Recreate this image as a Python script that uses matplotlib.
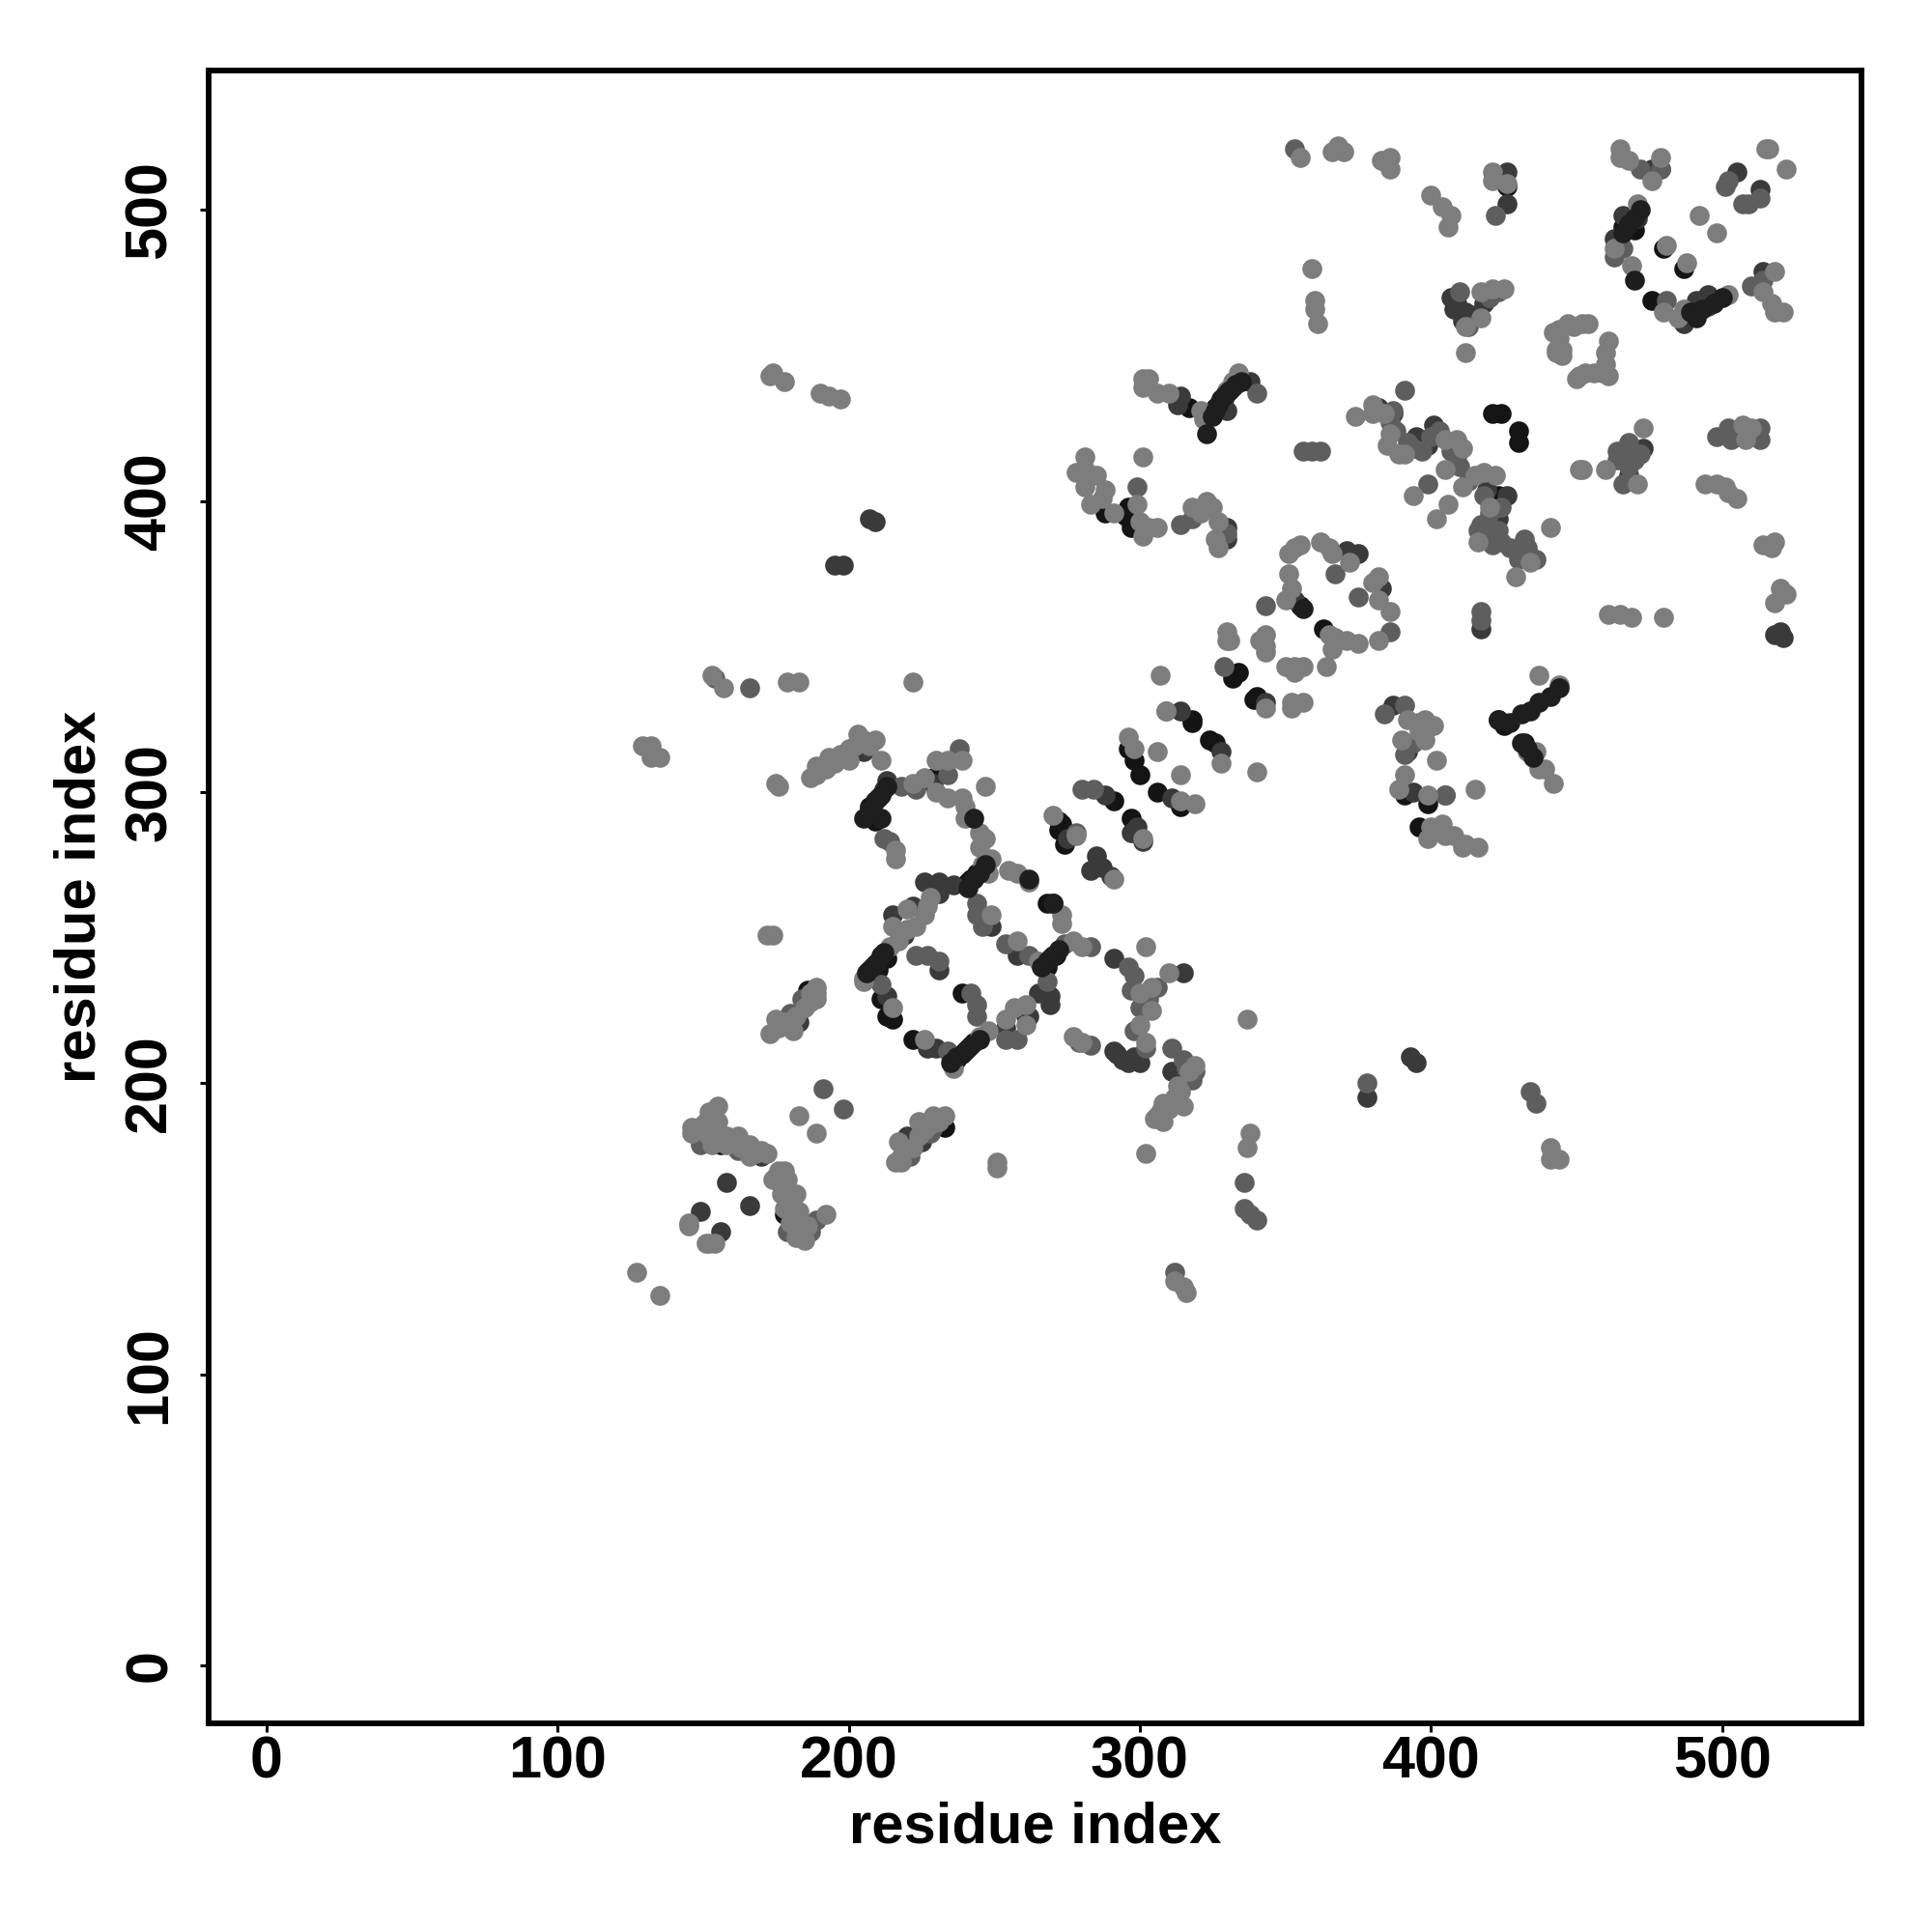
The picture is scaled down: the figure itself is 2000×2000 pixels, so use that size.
import numpy as np
import matplotlib
matplotlib.use('Agg')
import matplotlib.pyplot as plt

plt.rcParams['font.family'] = ['Liberation Sans', 'DejaVu Sans']

# contacts (residue i, residue j), one list per grey level
black_pts = [
    (207,295),(209,297),(210,298),(207,293),(209,290),(211,244),(213,243),(209,241),(207,239),(210,239),
    (211,229),(215,222),(213,223),(239,231),(222,215),(243,214),(241,212),(239,210),(237,208),(242,270),
    (241,269),(240,268),(244,272),(268,262),(270,262),(269,243),(268,240),(271,244),(229,305),(178,155),
    (233,185),(186,232),(156,179),(317,432),(323,429),(326,432),(296,398),(295,395),(297,391),(288,396),
    (355,364),(363,356),(334,341),(332,339),(340,333),(339,332),(318,325),(318,324),(324,318),(326,317),
    (296,315),(298,311),(300,306),(306,300),(291,297),(314,295),(297,291),(273,289),(391,299),(399,296),
    (396,288),(423,402),(430,420),(430,424),(423,325),(425,323),(432,317),(466,494),(470,493),(480,487),
    (487,480),(476,469),(426,508),(272,290),(272,287),(274,282),(421,430),(424,430),
]
dark_pts = [
    (213,304),(210,298),(212,301),(226,269),(231,269),(236,268),(231,265),(222,261),(215,258),(231,239),
    (213,230),(219,251),(205,314),(201,315),(229,303),(249,254),(258,244),(265,231),(269,230),(269,227),
    (261,223),(254,219),(230,212),(227,212),(158,166),(166,158),(149,156),(156,149),(183,150),(149,182),
    (170,175),(220,182),(225,180),(183,221),(314,436),(313,433),(330,431),(338,441),(329,435),(332,439),
    (371,383),(375,382),(353,366),(343,331),(314,328),(328,314),(288,299),(299,288),(297,286),(311,298),
    (330,391),(330,387),(395,422),(401,426),(399,419),(387,430),(382,432),(426,402),(419,404),(423,394),
    (431,383),(387,330),(392,314),(398,321),(394,300),(466,498),(471,497),(463,490),(426,513),(426,502),
    (479,514),(476,514),(487,461),(491,469),(495,471),(495,467),(514,479),(505,513),(513,507),(468,409),
    (473,418),(520,355),(518,354),(521,353),(378,195),(393,209),(395,207),(291,211),(315,238),(291,243),
    (285,278),(283,273),(417,356),(383,370),(409,468),(412,465),(405,299),(301,283),(275,284),(268,231),
    (262,223),(287,274),(290,271),(198,378),(195,378),(209,393),(207,394),(296,207),(298,209),(300,207),
    (292,210),(294,208),(311,204),(313,203),(407,470),(408,466),(411,462),(415,464),(418,468),
]
mid_pts = [
    (154,339),(166,336),(211,234),(212,284),(214,283),(218,302),(223,301),(234,306),(238,315),(244,262),
    (244,258),(246,254),(254,248),(262,244),(223,244),(227,244),(231,242),(242,231),(244,227),(244,223),
    (268,235),(258,215),(254,215),(234,211),(191,198),(198,191),(149,179),(162,177),(179,149),(187,149),
    (189,153),(221,175),(229,185),(228,183),(340,437),(299,405),(314,392),(318,394),(330,389),(356,417),
    (362,417),(359,417),(343,364),(367,375),(375,367),(386,355),(329,343),(309,328),(280,301),(284,301),
    (278,286),(391,438),(387,431),(391,330),(396,324),(394,317),(405,299),(399,406),(417,362),(417,359),
    (422,498),(479,514),(472,514),(466,487),(463,484),(481,469),(514,476),(510,474),(502,510),(501,508),
    (513,504),(509,502),(507,502),(498,422),(502,425),(513,421),(513,425),(468,420),(464,417),(466,406),
    (464,414),(378,200),(434,197),(436,193),(336,166),(336,157),(338,155),(340,153),(312,135),(434,381),
    (353,521),(298,237),(296,240),(283,247),(274,248),(283,213),(279,214),(311,212),(315,208),(319,204),
    (180,224),(184,229),(416,390),(420,391),(421,385),(424,386),(432,387),(409,415),(384,327),(391,313),
    (392,420),(394,418),(397,417),(400,422),(403,424),(407,417),(388,424),(386,427),(410,412),(413,407),
    (418,402),(420,396),(424,398),(417,392),(419,387),(423,390),(427,384),(430,380),(433,384),(436,380),
    (297,232),(300,226),(303,229),(306,233),(298,218),(302,212),(316,205),(318,201),(468,412),(470,414),
    (472,416),(468,416),(410,472),(413,460),(420,470),(423,472),(503,421),(505,424),
]
light_pts = [
    (153,340),(157,336),(179,338),(183,338),(222,338),(129,316),(132,316),(132,312),(135,312),(175,303),
    (176,302),(187,305),(189,306),(192,308),(193,312),(189,309),(197,313),(200,315),(203,320),(209,318),
    (211,311),(200,311),(216,280),(216,277),(222,303),(226,305),(230,300),(234,298),(230,311),(234,311),
    (239,311),(239,298),(240,295),(240,291),(245,286),(247,284),(245,281),(249,277),(248,272),(246,275),
    (247,302),(255,273),(258,272),(262,269),(273,258),(273,255),(270,292),(278,285),(228,264),(227,261),
    (220,260),(226,258),(215,254),(220,253),(223,254),(217,249),(214,247),(205,236),(205,235),(215,226),
    (249,258),(258,249),(265,242),(277,249),(280,247),(261,227),(257,226),(254,222),(261,220),(248,218),
    (245,216),(236,205),(226,215),(172,251),(174,251),(277,216),(280,214),(173,217),(175,222),(181,218),
    (178,221),(189,233),(189,229),(187,231),(183,189),(189,183),(127,135),(135,127),(145,152),(145,151),
    (152,145),(151,145),(154,145),(146,185),(146,183),(155,192),(152,190),(151,187),(155,183),(158,179),
    (158,182),(162,182),(166,179),(166,175),(170,177),(176,170),(178,170),(174,167),(179,167),(182,162),
    (177,162),(178,157),(183,156),(185,146),(186,151),(192,155),(216,173),(218,173),(217,180),(224,187),
    (229,189),(233,189),(301,442),(303,442),(301,439),(306,437),(310,437),(321,431),(322,428),(328,435),
    (330,438),(332,441),(334,444),(281,415),(278,410),(281,411),(285,409),(281,405),(288,404),(287,401),
    (283,399),(291,396),(301,415),(299,399),(300,393),(301,388),(306,391),(303,391),(318,398),(323,400),
    (321,396),(325,398),(327,393),(327,384),(326,387),(380,433),(380,430),(384,430),(374,429),(386,423),
    (385,419),(389,416),(391,416),(405,421),(409,421),(411,418),(405,411),(394,402),(406,399),(402,394),
    (411,405),(415,409),(418,410),(422,409),(420,398),(416,386),(434,379),(441,391),(429,374),(351,382),
    (353,384),(355,385),(362,386),(365,384),(366,382),(372,379),(351,375),(352,370),(350,366),(365,354),
    (367,353),(366,349),(371,352),(375,351),(382,374),(380,372),(382,366),(386,362),(382,352),(330,352),
    (330,355),(331,352),(343,354),(343,350),(341,352),(343,348),(350,343),(353,343),(356,343),(364,343),
    (353,341),(343,329),(352,331),(356,331),(352,329),(307,340),(309,328),(328,310),(340,307),(296,319),
    (298,315),(306,314),(314,306),(319,296),(314,297),(301,284),(291,270),(401,323),(398,325),(392,325),
    (398,318),(391,306),(389,301),(399,299),(415,301),(400,288),(404,289),(399,284),(405,285),(408,285),
    (412,282),(416,281),(411,281),(437,340),(444,337),(437,308),(436,314),(433,314),(439,308),(442,303),
    (421,510),(426,509),(421,513),(400,505),(404,501),(407,498),(406,494),(465,521),(465,518),(468,517),
    (479,518),(476,510),(471,502),(463,487),(469,481),(481,488),(488,482),(492,498),(498,492),(480,465),
    (485,463),(487,466),(502,471),(514,472),(518,479),(517,468),(518,465),(521,465),(515,521),(516,521),
    (522,514),(444,459),(444,456),(452,461),(454,461),(461,455),(460,451),(443,452),(443,451),(451,443),
    (453,444),(459,444),(460,447),(450,442),(412,451),(417,463),(412,460),(417,472),(421,473),(425,473),
    (451,411),(452,411),(460,411),(473,425),(471,406),(507,426),(510,425),(508,421),(494,406),(498,406),
    (501,405),(505,401),(502,403),(514,385),(518,386),(517,384),(520,370),(522,368),(518,365),(461,361),
    (465,361),(469,360),(480,360),(359,480),(360,469),(360,466),(361,461),(355,518),(366,520),(368,522),
    (370,520),(386,518),(383,517),(386,514),(337,222),(338,183),(337,178),(441,178),(444,174),(441,174),
    (251,173),(251,171),(312,132),(315,130),(316,128),(174,444),(178,441),(173,443),(190,437),(197,435),
    (193,436),(302,247),(300,231),(304,233),(310,238),(302,214),(304,225),(300,220),(306,189),(308,193),
    (313,199),(317,204),(319,206),(302,176),(305,188),(315,192),(310,191),(390,318),(396,321),(402,311),
    (148,184),(150,186),(152,182),(153,179),(155,187),(160,180),(163,178),(168,176),(172,176),(175,168),
    (177,165),(179,160),(181,158),(180,152),(182,147),(184,147),(222,178),(224,182),(226,184),(228,186),
    (231,187),(218,175),(176,219),(179,220),(182,223),(185,226),(187,228),(189,231),(195,310),(198,312),
    (202,316),(205,318),(207,316),(314,197),(312,195),(308,187),(307,190),(444,453),(445,450),(442,458),
    (447,461),(449,460),(461,443),(456,444),(445,452),
]
# dark marks that sit over the lighter ones
top_pts = [
    (325,429),(326,431),(327,433),(328,435),(329,436),(330,437),(331,438),(333,440),(335,441),(323,423),
    (427,324),(431,327),(434,328),(437,331),(441,333),(444,336),(431,317),(433,315),(435,312),(423,325),
    (466,492),(468,495),(470,497),(472,500),(489,465),(491,463),(493,466),(497,468),(500,470),(470,476),
    (206,238),(208,240),(210,242),(212,245),(235,207),(237,209),(240,211),(242,213),(245,215),
    (241,267),(243,270),(245,272),(247,275),(266,240),(268,242),(270,244),(272,246),
    (205,291),(207,294),(209,297),(211,299),(213,302),(262,270),(270,262),(356,363),(243,291),(211,291),
]

tick_pos = [0, 100, 200, 300, 400, 500]
axis_label = 'residue index'

fig = plt.figure(figsize=(20, 20), dpi=100)
ax = fig.add_axes([216/2000, 1-1784/2000, (1927-216)/2000, (1784-73)/2000])

layers = [(black_pts, '#141414'), (dark_pts, '#3a3a3a'), (mid_pts, '#5e5e5e'), (light_pts, '#7d7d7d'), (top_pts, '#1e1e1e')]
for pts, col in layers:
    p = np.array(pts)
    ax.scatter(p[:, 0], p[:, 1], s=220, c=col, linewidths=0, zorder=3)

ax.set_xlim(-19.9, 547.9)
ax.set_ylim(-19.9, 547.9)
ax.set_xticks(tick_pos)
ax.set_yticks(tick_pos)
ax.tick_params(axis='x', length=6.5, width=2.2, labelsize=44, pad=2.4)
ax.tick_params(axis='y', length=6.5, width=2.2, labelsize=44, pad=16)
for lab in ax.get_xticklabels():
    lab.set_fontweight('bold')
for lab in ax.get_yticklabels():
    lab.set_fontweight('bold')
    lab.set_rotation(90)
    lab.set_va('center')
for s in ax.spines.values():
    s.set_linewidth(4.2)

ax.set_xlabel(axis_label, fontsize=43, fontweight='bold', labelpad=8)
ax.set_ylabel(axis_label, fontsize=43, fontweight='bold', labelpad=12.5)

plt.savefig('out.png')
